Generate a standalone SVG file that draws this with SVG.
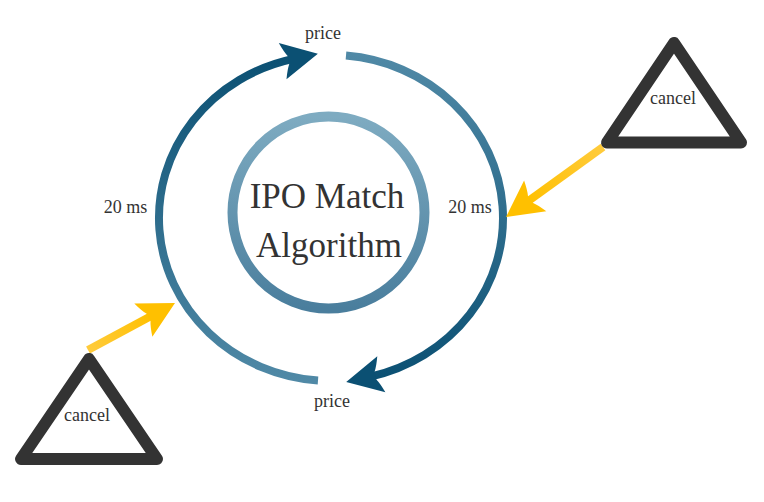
<svg xmlns="http://www.w3.org/2000/svg" width="764" height="502" viewBox="0 0 764 502">
  <style>
    .lbl { font-family: "Liberation Serif", "Times New Roman", serif; font-size: 18px; fill: #333333; text-anchor: middle; }
    .title { font-family: "Liberation Serif", "Times New Roman", serif; font-size: 35px; fill: #333333; text-anchor: middle; }
    .cycle { fill: none; stroke-width: 8; stroke-linecap: butt; }
    .feed { fill: none; stroke-width: 8; stroke-linecap: butt; }
    .warn { fill: #ffffff; stroke: #333333; stroke-width: 12; stroke-linejoin: round; }
  </style>
  <defs>
    <linearGradient id="gLeft" gradientUnits="userSpaceOnUse" x1="0" y1="55" x2="0" y2="381">
      <stop offset="0" stop-color="#0b5073"/>
      <stop offset="1" stop-color="#5089a6"/>
    </linearGradient>
    <linearGradient id="gRight" gradientUnits="userSpaceOnUse" x1="0" y1="55" x2="0" y2="381">
      <stop offset="0" stop-color="#5089a6"/>
      <stop offset="1" stop-color="#0b5073"/>
    </linearGradient>
    <linearGradient id="gRing" x1="0" y1="0" x2="0" y2="1">
      <stop offset="0" stop-color="#7eabc1"/>
      <stop offset="1" stop-color="#4a7e9d"/>
    </linearGradient>
    <linearGradient id="gFeedA" gradientUnits="userSpaceOnUse" x1="603" y1="147" x2="526" y2="202">
      <stop offset="0" stop-color="#ffcb3c"/>
      <stop offset="1" stop-color="#ffc000"/>
    </linearGradient>
    <linearGradient id="gFeedB" gradientUnits="userSpaceOnUse" x1="88" y1="350" x2="153" y2="315">
      <stop offset="0" stop-color="#ffcb3c"/>
      <stop offset="1" stop-color="#ffc000"/>
    </linearGradient>
    <marker id="headBlue" markerUnits="userSpaceOnUse" orient="auto" refX="0" refY="0" markerWidth="60" markerHeight="60" viewBox="-20 -30 60 60" overflow="visible">
      <path d="M25,0 L-11,-18.5 Q-8,-9 -5,-4 L-5,4 Q-8,9 -11,18.5 Z" fill="#0b5073"/>
    </marker>
    <marker id="headGold" markerUnits="userSpaceOnUse" orient="auto" refX="0" refY="0" markerWidth="60" markerHeight="60" viewBox="-20 -30 60 60" overflow="visible">
      <path d="M25,0 L-11,-19 Q-8,-9 -5,-4 L-5,4 Q-8,9 -11,19 Z" fill="#ffc000"/>
    </marker>
  </defs>

  <!-- connectors: the price cycle and the two cancel feeds -->
  <g id="connectors">
    <path id="cycle-left" class="cycle" stroke="url(#gLeft)" marker-end="url(#headBlue)"
          d="M318,380.5 A172,163 0 0 1 293.4,58.9"/>
    <path id="cycle-right" class="cycle" stroke="url(#gRight)" marker-end="url(#headBlue)"
          d="M346,55.6 A172,163 0 0 1 370.6,376.6"/>
    <path id="feed-top" class="feed" stroke="url(#gFeedA)" marker-end="url(#headGold)"
          d="M603,147 L526.3,202.4"/>
    <path id="feed-bottom" class="feed" stroke="url(#gFeedB)" marker-end="url(#headGold)"
          d="M88,350 L153,314.9"/>
    <text class="lbl" x="323" y="39">price</text>
    <text class="lbl" x="332" y="407">price</text>
    <text class="lbl" x="125.5" y="213">20 ms</text>
    <text class="lbl" x="470" y="213">20 ms</text>
  </g>

  <!-- central engine -->
  <g id="node-engine">
    <circle cx="328.5" cy="212.5" r="96" fill="#ffffff" stroke="url(#gRing)" stroke-width="10"/>
    <text class="title" x="327" y="208">IPO Match</text>
    <text class="title" x="329" y="257">Algorithm</text>
  </g>

  <!-- cancel sources -->
  <g id="node-cancel-top">
    <polygon class="warn" points="674,43 607,142.5 741,142.5"/>
    <text class="lbl" x="673" y="104">cancel</text>
  </g>
  <g id="node-cancel-bottom">
    <polygon class="warn" points="89,359 21,459 157,459"/>
    <text class="lbl" x="87" y="421">cancel</text>
  </g>
</svg>
